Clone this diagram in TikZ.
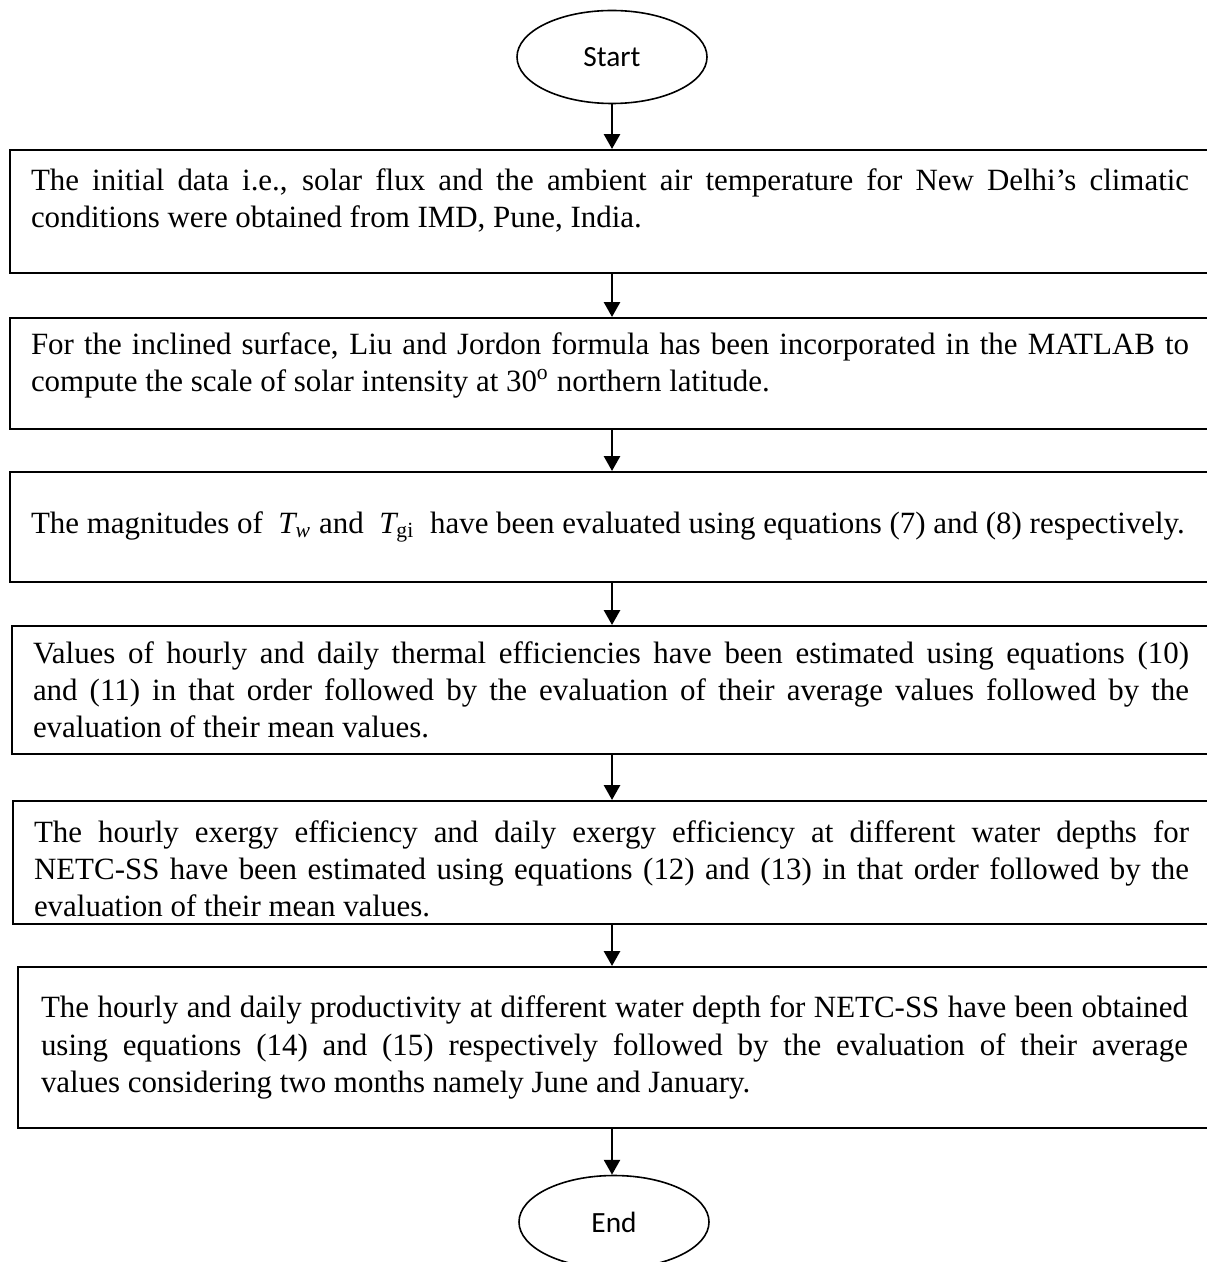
\documentclass[tikz,border=0pt]{standalone}
\usepackage{fontspec}
\setmainfont{Liberation Serif}
\newfontfamily\ovalfont{Carlito}
\usetikzlibrary{shapes.geometric,arrows.meta}
\begin{document}
\begin{tikzpicture}[x=0.375pt,y=-0.375pt,
    stepbox/.style={draw,line width=0.75pt,anchor=west,align=justify,
        inner ysep=0pt,font=\fontsize{11.6pt}{13.9pt}\selectfont},
    oval/.style={draw,ellipse,line width=0.6pt,inner sep=0pt,
        minimum width=71.25pt,minimum height=34.875pt,font=\ovalfont\fontsize{11pt}{13pt}\selectfont},
    flow/.style={line width=1pt,-{Triangle[width=6pt,length=5.6pt]}}]

    % 画布范围
    \useasboundingbox (0,0) rectangle (1206,1262);
    % 开始椭圆
    \node[oval] (start) at (612,57) {Start};
    % 第一步:原始数据
    \node[stepbox,inner xsep=7.875pt,text width=434.25pt,minimum height=46.125pt] (data) at (9,211.5)
        {The initial data i.e., solar flux and the ambient air temperature for New Delhi's climatic\linebreak
        conditions were obtained from IMD, Pune, India.\par\kern8.25pt};
    % 第二步:倾斜面太阳辐射
    \node[stepbox,inner xsep=7.875pt,text width=434.25pt,minimum height=41.625pt] (incline) at (9,373.5)
        {For the inclined surface, Liu and Jordon formula has been incorporated in the MATLAB to\linebreak
        compute the scale of solar intensity at 30\textsuperscript{o} northern latitude.\par\kern6pt};
    % 第三步:温度
    \node[stepbox,inner xsep=7.875pt,text width=434.25pt,minimum height=41.25pt] (temp) at (9,527)
        {The magnitudes of \ {\itshape T\textsubscript{w}} and \ {\itshape T}\textsubscript{gi} \ have been evaluated using equations (7) and (8) respectively.};
    % 第四步:热效率
    \node[stepbox,inner xsep=7.875pt,text width=433.5pt,minimum height=48pt] (thermal) at (11,690)
        {Values of hourly and daily thermal efficiencies have been estimated using equations (10)\linebreak
        and (11) in that order followed by the evaluation of their average values followed by the\linebreak
        evaluation of their mean values.};
    % 第五步:㶲效率
    \node[stepbox,inner xsep=7.875pt,text width=433.125pt,minimum height=46.125pt] (exergy) at (12,862.5)
        {The hourly exergy efficiency and daily exergy efficiency at different water depths for\linebreak
        NETC-SS have been estimated using equations (12) and (13) in that order followed by the\linebreak
        evaluation of their mean values.\par\kern-4.5pt};
    % 第六步:产水量
    \node[stepbox,inner xsep=8.625pt,text width=430.125pt,minimum height=60.375pt] (yield) at (17,1047.5)
        {The hourly and daily productivity at different water depth for NETC-SS have been obtained\linebreak
        using equations (14) and (15) respectively followed by the evaluation of their average\linebreak
        values considering two months namely June and January.};
    % 结束椭圆
    \node[oval] (stop) at (614,1222) {End};

    % 箭头
    \draw[flow] (start) -- (start |- data.north);
    \draw[flow] (start |- data.south) -- (start |- incline.north);
    \draw[flow] (start |- incline.south) -- (start |- temp.north);
    \draw[flow] (start |- temp.south) -- (start |- thermal.north);
    \draw[flow] (start |- thermal.south) -- (start |- exergy.north);
    \draw[flow] (start |- exergy.south) -- (start |- yield.north);
    \draw[flow] (start |- yield.south) -- (start |- stop.north);
\end{tikzpicture}
\end{document}
